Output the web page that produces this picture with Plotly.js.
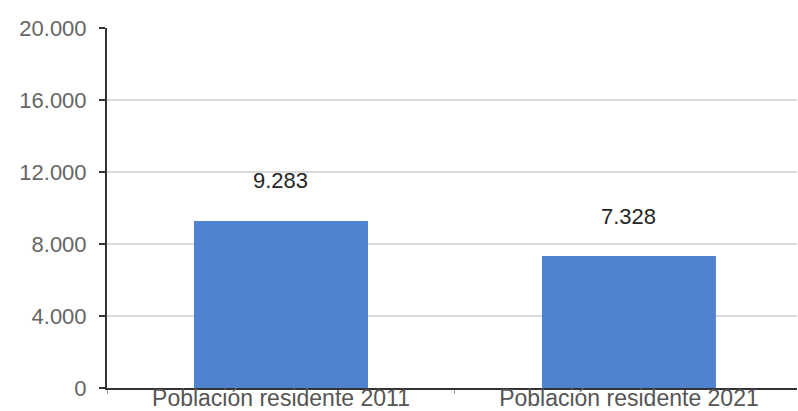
<!DOCTYPE html>
<html>
<head>
<meta charset="utf-8">
<script src="https://cdn.plot.ly/plotly-3.0.1.min.js"></script>
<style>html,body{margin:0;padding:0;background:#fff;}#chart{width:798px;height:411px;}</style>
</head>
<body>
<div id="chart"></div>
<script>
const categories = ['Población residente 2011', 'Población residente 2021'];
const values = [9283, 7328];
const valueLabels = ['9.283', '7.328'];
const yTickVals = [0, 4000, 8000, 12000, 16000, 20000];
const yTickText = ['0', '4.000', '8.000', '12.000', '16.000', '20.000'];
const gridVals = [4000, 8000, 12000, 16000];

const trace = {
  type: 'bar',
  x: categories,
  y: values,
  marker: {color: '#4f83cf'},
  width: 0.5,
  hoverinfo: 'skip'
};

const shapes = gridVals.map(v => ({
  type: 'line', xref: 'paper', yref: 'y', x0: 0, x1: 1, y0: v, y1: v,
  line: {color: '#d9d9d9', width: 2}, layer: 'below'
}));

const annotations = categories.map((c, i) => ({
  x: c, y: values[i], xref: 'x', yref: 'y', text: valueLabels[i],
  showarrow: false, yshift: 40, yanchor: 'middle',
  font: {family: 'Liberation Sans, Arial, sans-serif', size: 22, color: '#262626'}
}));

const layout = {
  width: 798, height: 411,
  margin: {l: 107, r: 1, t: 28, b: 23},
  paper_bgcolor: '#ffffff', plot_bgcolor: '#ffffff',
  showlegend: false,
  font: {family: 'Liberation Sans, Arial, sans-serif'},
  xaxis: {
    type: 'category',
    range: [-0.5, 1.483],
    showline: true, linecolor: '#333333', linewidth: 2,
    ticks: 'outside', tickson: 'boundaries', ticklen: 4, tickcolor: '#999999', tickwidth: 1,
    showgrid: false,
    ticklabelstandoff: -12,
    tickfont: {size: 23, color: '#555555'}
  },
  yaxis: {
    range: [0, 20000],
    tickvals: yTickVals, ticktext: yTickText,
    showline: true, linecolor: '#333333', linewidth: 2,
    ticks: 'outside', ticklen: 6, tickcolor: '#333333', tickwidth: 2,
    showgrid: false, zeroline: false,
    ticklabelstandoff: 8,
    tickfont: {size: 22, color: '#666666'}
  },
  shapes: shapes,
  annotations: annotations
};

Plotly.newPlot('chart', [trace], layout, {displayModeBar: false, staticPlot: true});
</script>
</body>
</html>
